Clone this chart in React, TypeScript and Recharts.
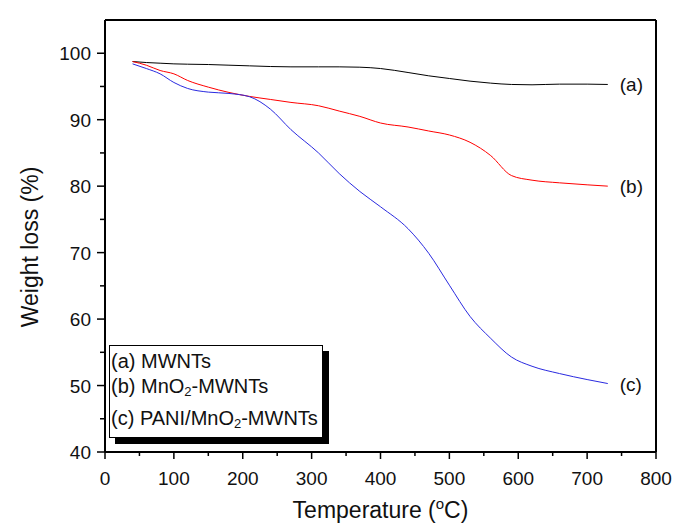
import {
    LineChart,
    Line,
    XAxis,
    YAxis,
    ReferenceLine,
    Legend,
    LabelList,
    Label,
} from "recharts";

// temperature grid (°C) shared by the three TGA curves
const temps = [40, 60, 80, 100, 120, 150, 180, 210, 240, 270, 310, 340, 370, 400, 440, 470, 500, 530, 560, 590, 620, 660, 700, 730];

// (a) MWNTs
const mwnts = [98.75, 98.6, 98.5, 98.4, 98.35, 98.3, 98.2, 98.1, 98.0, 97.95, 97.95, 97.95, 97.9, 97.7, 97.1, 96.6, 96.2, 95.8, 95.5, 95.3, 95.25, 95.35, 95.35, 95.3];
// (b) MnO2-MWNTs
const mno2 = [98.75, 98.2, 97.4, 96.9, 95.9, 94.9, 94.1, 93.5, 93.05, 92.6, 92.1, 91.3, 90.5, 89.5, 88.9, 88.3, 87.7, 86.6, 84.6, 81.6, 80.9, 80.5, 80.2, 80.0];
// (c) PANI/MnO2-MWNTs
const pani = [98.4, 97.7, 96.9, 95.6, 94.7, 94.15, 93.95, 93.45, 91.6, 88.5, 85.0, 81.9, 79.2, 76.9, 73.6, 69.9, 65.1, 60.4, 57.1, 54.3, 52.9, 51.8, 50.9, 50.3];

const xTicks = [0, 50, 100, 150, 200, 250, 300, 350, 400, 450, 500, 550, 600, 650, 700, 750, 800];
const yTicks = [40, 45, 50, 55, 60, 65, 70, 75, 80, 85, 90, 95, 100];

const endTags = ["(a)", "(b)", "(c)"];

const data = temps.map((t, i) => ({ t, a: mwnts[i], b: mno2[i], c: pani[i] }));

const FONT = '"Liberation Sans", Arial, Helvetica, sans-serif';
const last = temps.length - 1;

const XTick = (props: any) => {
    const { x, y, payload } = props;
    const major = payload.value % 100 === 0;
    return (
        <g>
            <line x1={x} x2={x} y1={y} y2={y + (major ? 7 : 4)} stroke="#000" strokeWidth={1.5} />
            {major && (
                <text x={x} y={y + 33} textAnchor="middle" fontSize={19} fontFamily={FONT} fill="#111">
                    {payload.value}
                </text>
            )}
        </g>
    );
};

const YTick = (props: any) => {
    const { x, y, payload } = props;
    const major = payload.value % 10 === 0;
    return (
        <g>
            <line x1={x} x2={x - (major ? 8 : 5)} y1={y} y2={y} stroke="#000" strokeWidth={1.5} />
            {major && (
                <text x={x - 14} y={y + 7} textAnchor="end" fontSize={19} fontFamily={FONT} fill="#111">
                    {payload.value}
                </text>
            )}
        </g>
    );
};

const endLabel = (tag: string) => (props: any) => {
    const { x, y, index } = props;
    if (index !== last) return null;
    return (
        <text x={x + 12} y={y + 7} fontSize={19} fontFamily={FONT} fill="#111">
            {tag}
        </text>
    );
};

const subStyle = { fontSize: 13, verticalAlign: "-3px", lineHeight: 0 };

const LegendBox = () => (
    <div
        style={{
            width: 211,
            height: 88,
            border: "1px solid #000",
            background: "#fff",
            boxShadow: "6px 6px 0 #000",
            fontFamily: FONT,
            fontSize: 20,
            color: "#111",
            lineHeight: "25px",
            padding: "3px 0 0 1px",
            boxSizing: "content-box",
            whiteSpace: "nowrap",
        }}
    >
        <div>(a) MWNTs</div>
        <div>
            (b) MnO<sub style={subStyle}>2</sub>-MWNTs
        </div>
        <div style={{ marginTop: 7 }}>
            (c) PANI/MnO<sub style={subStyle}>2</sub>-MWNTs
        </div>
    </div>
);

const XTitle = (props: any) => {
    const { viewBox } = props;
    const cx = viewBox.x + viewBox.width / 2;
    return (
        <text x={cx} y={viewBox.y + 66} textAnchor="middle" fontSize={23} fontFamily={FONT} fill="#111">
            Temperature (<tspan fontSize={15} dy={-9}>o</tspan>
            <tspan dy={9}>C)</tspan>
        </text>
    );
};

const YTitle = () => (
    <text
        x={30}
        y={247}
        transform="rotate(-90, 30, 247)"
        textAnchor="middle"
        dominantBaseline="central"
        fontSize={23}
        fontFamily={FONT}
        fill="#111"
    >
        Weight loss (%)
    </text>
);

export default function App() {
    return (
        <div style={{ position: "absolute", left: 0, top: 0 }}>
            <LineChart width={684} height={532} data={data} margin={{ top: 20, right: 28, bottom: 0, left: 0 }}>
                <XAxis
                    dataKey="t"
                    type="number"
                    domain={[0, 800]}
                    ticks={xTicks}
                    interval={0}
                    height={80}
                    tickSize={0}
                    tickMargin={0}
                    tickLine={false}
                    axisLine={{ stroke: "#000", strokeWidth: 2 }}
                    tick={<XTick />}
                >
                    <Label content={<XTitle />} />
                </XAxis>
                <YAxis
                    type="number"
                    domain={[40, 105]}
                    ticks={yTicks}
                    interval={0}
                    width={105}
                    tickSize={0}
                    tickMargin={0}
                    tickLine={false}
                    axisLine={{ stroke: "#000", strokeWidth: 2 }}
                    tick={<YTick />}
                >
                    <Label content={<YTitle />} />
                </YAxis>
                <ReferenceLine y={105} stroke="#000" strokeWidth={2} />
                <ReferenceLine x={800} stroke="#000" strokeWidth={2} />
                <Line type="monotone" dataKey="a" stroke="#000" strokeWidth={1} dot={false} isAnimationActive={false}>
                    <LabelList dataKey="a" content={endLabel(endTags[0])} />
                </Line>
                <Line type="monotone" dataKey="b" stroke="#ff0000" strokeWidth={1} dot={false} isAnimationActive={false}>
                    <LabelList dataKey="b" content={endLabel(endTags[1])} />
                </Line>
                <Line type="monotone" dataKey="c" stroke="#2a2ae0" strokeWidth={1} dot={false} isAnimationActive={false}>
                    <LabelList dataKey="c" content={endLabel(endTags[2])} />
                </Line>
                <Legend
                    layout="horizontal"
                    verticalAlign="middle"
                    content={<LegendBox />}
                    wrapperStyle={{ left: 109, top: 345, width: 230, height: 100 }}
                />
            </LineChart>
        </div>
    );
}
